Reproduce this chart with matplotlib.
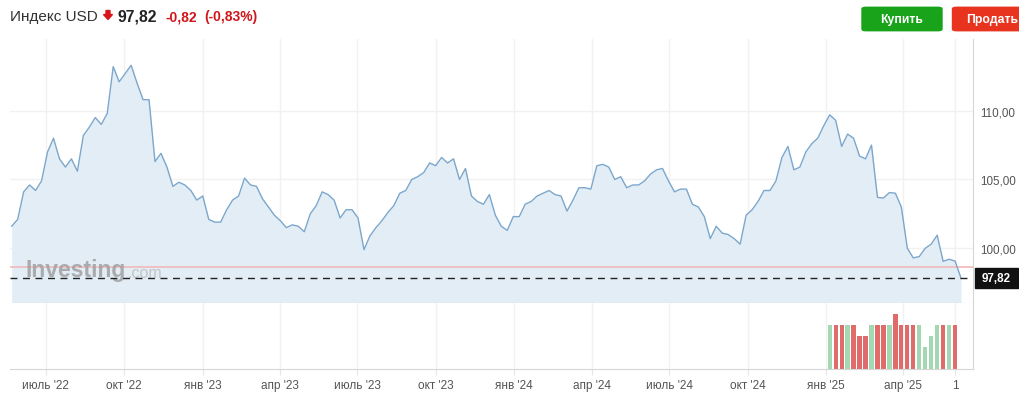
import matplotlib
matplotlib.use('Agg')
import matplotlib.pyplot as plt
from matplotlib.patches import FancyBboxPatch, Rectangle, Polygon
import pandas as pd

plt.rcParams['font.family'] = ['Liberation Sans', 'DejaVu Sans']

# weekly closes of the USD index
close = [
    101.6, 102.1, 104.1, 104.6, 104.2, 104.9, 107.0, 108.0, 106.5, 105.9,
    106.5, 105.6, 108.2, 108.8, 109.5, 109.0, 109.8, 113.2, 112.1, 112.7,
    113.3, 112.0, 110.8, 110.8, 106.3, 106.9, 105.9, 104.5, 104.8, 104.6,
    104.2, 103.5, 103.8, 102.1, 101.9, 101.9, 102.8, 103.5, 103.8, 105.1,
    104.6, 104.5, 103.6, 103.0, 102.4, 102.0, 101.5, 101.7, 101.6, 101.2,
    102.5, 103.1, 104.1, 103.9, 103.5, 102.2, 102.8, 102.8, 102.2, 99.9,
    100.9, 101.5, 102.0, 102.6, 103.1, 104.0, 104.2, 105.0, 105.2, 105.5,
    106.2, 106.0, 106.6, 106.2, 106.5, 105.0, 105.8, 103.8, 103.4, 103.2,
    103.9, 102.4, 101.6, 101.3, 102.3, 102.3, 103.2, 103.4, 103.8, 104.0,
    104.2, 103.9, 103.8, 102.7, 103.5, 104.4, 104.4, 104.3, 106.0, 106.1,
    105.9, 105.0, 105.2, 104.4, 104.6, 104.6, 104.9, 105.4, 105.7, 105.8,
    104.9, 104.1, 104.3, 104.3, 103.2, 103.0, 102.3, 100.7, 101.6, 101.1,
    101.0, 100.7, 100.3, 102.4, 102.8, 103.4, 104.2, 104.2, 104.9, 106.6,
    107.4, 105.7, 105.9, 107.0, 107.6, 108.0, 108.9, 109.7, 109.3, 107.4,
    108.3, 108.0, 106.7, 106.5, 107.5, 103.7, 103.65, 104.05, 104.0, 103.0,
    100.0, 99.3, 99.4, 100.0, 100.3, 100.95, 99.05, 99.2, 99.07, 97.82,
]
dates = pd.date_range('2022-05-22', periods=len(close), freq='7D')

# volume bars of the last weeks (first bar is week index vol_start)
volume = [4, 4, 4, 4, 4, 3, 3, 4, 4, 4, 4, 5, 4, 4, 4, 4, 2, 3, 4, 4, 4, 4]
vol_start = 137

last_price = 97.82
prev_close = 98.64
change = -0.82
change_pct = -0.83

tick_dates = ['2022-07-01', '2022-10-01', '2023-01-01', '2023-04-01', '2023-07-01',
              '2023-10-01', '2024-01-01', '2024-04-01', '2024-07-01', '2024-10-01',
              '2025-01-01', '2025-04-01', '2025-06-01']
tick_labels = ["июль '22", "окт '22", "янв '23", "апр '23", "июль '23", "окт '23",
               "янв '24", "апр '24", "июль '24", "окт '24", "янв '25", "апр '25", "1"]
y_ticks = [100, 105, 110]

W, H = 1020, 402


def fx(px):
    return px / W


def fy(py):
    return 1 - py / H


fig = plt.figure(figsize=(W / 100, H / 100), dpi=100)
x0, x1 = pd.Timestamp('2022-05-20'), pd.Timestamp('2025-06-22')
ymin, ymax = 96.0, 115.21
tdates = pd.to_datetime(tick_dates)

# price panel
ax = fig.add_axes([fx(10), fy(304.3), fx(973) - fx(10), fy(40) - fy(304.3)])
ax.set_xlim(x0, x1)
ax.set_ylim(ymin, ymax)
for y in y_ticks:
    ax.axhline(y, color='#f1f1f1', lw=1, zorder=0)
for d in tdates:
    ax.axvline(d, color='#f1f1f1', lw=1, zorder=0)
ax.fill_between(dates, close, ymin - 5, color='#e3edf6', lw=0, zorder=1)
ax.plot(dates, close, color='#7ba7cc', lw=1.0, zorder=4)
ax.axhline(prev_close, color='#f2b9b9', lw=1.2, zorder=2)
ax.axhline(last_price, color='#222222', lw=1, ls=(0, (5, 4)), zorder=5)

ax.text(0.016, 0.128, 'Investing', transform=ax.transAxes, fontsize=16.5,
        fontweight='bold', color='#a0a0a0', alpha=0.85, va='center', zorder=3)
ax.text(0.122, 0.118, '.com', transform=ax.transAxes, fontsize=11.5,
        color='#c4c4c4', va='center', zorder=3)

ax.yaxis.tick_right()
ax.set_yticks(y_ticks)
ax.set_yticklabels([f'{y:.2f}'.replace('.', ',') for y in y_ticks])
ax.tick_params(axis='y', length=0, pad=5, labelsize=8.4, labelcolor='#555555')
ax.set_xticks([])
for s in ['top', 'left']:
    ax.spines[s].set_visible(False)
ax.spines['bottom'].set_color('#c9c9c9')
ax.spines['right'].set_color('#d6d6d6')

# volume panel
axv = fig.add_axes([fx(10), fy(370), fx(973) - fx(10), fy(304.3) - fy(370)])
axv.set_xlim(x0, x1)
axv.set_ylim(0, 6)
for d in tdates:
    axv.axvline(d, color='#f1f1f1', lw=1, zorder=0)
vdates = dates[vol_start:vol_start + len(volume)]
vcolors = ['#a4d8b2' if close[vol_start + i] >= close[vol_start + i - 1] else '#e06b6b'
           for i in range(len(volume))]
axv.bar(vdates, volume, width=5, color=vcolors, zorder=2)
axv.set_yticks([])
axv.set_xticks(tdates)
axv.set_xticklabels(tick_labels)
axv.tick_params(axis='x', length=4, color='#e6e6e6', pad=3, labelsize=8.5,
                labelcolor='#555555')
for s in ['top', 'left']:
    axv.spines[s].set_visible(False)
axv.spines['bottom'].set_color('#d6d6d6')
axv.spines['right'].set_color('#d6d6d6')

# last price tag
fig.patches.append(Rectangle((fx(975), fy(289)), fx(43), 20 / H, color='#111111',
                             transform=fig.transFigure))
fig.text(fx(996.5), fy(279.3), f'{last_price:.2f}'.replace('.', ','), color='white',
         fontsize=8.4, fontweight='bold', ha='center', va='center')

# header
fig.text(fx(10), fy(17), 'Индекс USD', fontsize=11, color='#333333', va='center')
arrow = [(106, 11.5), (110, 11.5), (110, 15.5), (112.5, 15.5), (108, 20.5),
         (103.5, 15.5), (106, 15.5)]
fig.patches.append(Polygon([(fx(a), fy(b)) for a, b in arrow], closed=True,
                           color='#d9141b', transform=fig.transFigure))
fig.text(fx(118), fy(17), f'{last_price:.2f}'.replace('.', ','), fontsize=11.3,
         fontweight='bold', color='#222222', va='center')
fig.text(fx(166), fy(17), f'{change:.2f}'.replace('.', ','), fontsize=10,
         fontweight='bold', color='#d0161b', va='center')
fig.text(fx(204), fy(17), f'({change_pct:.2f}%)'.replace('.', ','), fontsize=10,
         fontweight='bold', color='#d0161b', va='center')

# buttons
fig.patches.append(FancyBboxPatch((fx(862), fy(31.7)), fx(80), 23.4 / H,
                                  boxstyle='round,pad=0,rounding_size=0.004',
                                  color='#19a31a', transform=fig.transFigure))
fig.text(fx(902), fy(19.5), 'Купить', fontsize=8.8, fontweight='bold',
         color='white', ha='center', va='center')
fig.patches.append(FancyBboxPatch((fx(952.5), fy(31.7)), fx(80), 23.4 / H,
                                  boxstyle='round,pad=0,rounding_size=0.004',
                                  color='#e8341f', transform=fig.transFigure))
fig.text(fx(966), fy(19.5), 'Продать', fontsize=8.8, fontweight='bold',
         color='white', ha='left', va='center')

fig.savefig('out.png', dpi=100)
